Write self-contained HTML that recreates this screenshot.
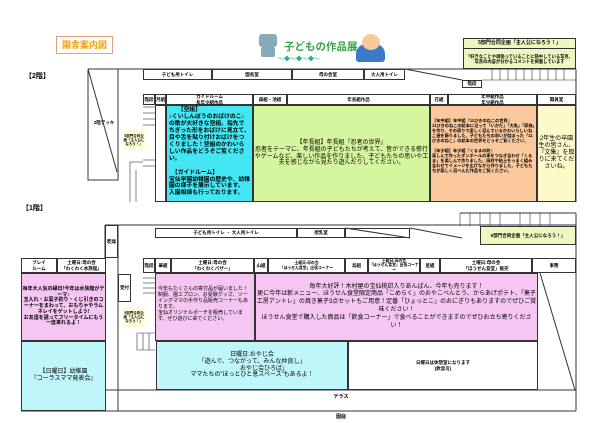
<!DOCTYPE html>
<html><head><meta charset="utf-8"><style>
*{margin:0;padding:0;box-sizing:border-box}
body{width:600px;height:423px;background:#fff;position:relative;overflow:hidden;font-family:"Liberation Sans","Noto Sans CJK JP",sans-serif;color:#000}
.a{position:absolute}
.b{position:absolute;border:1px solid #333}
.c{display:flex;align-items:center;justify-content:center;text-align:center;font-size:4.5px;font-weight:bold;line-height:1.15}
.t{font-size:5.6px;line-height:1.2;font-weight:bold}
</style></head><body>
<div class="b c" style="left:56px;top:36px;width:57px;height:18px;border-color:#e0a080;color:#f39a00;font-size:9px">園舎案内図</div>
<div class="a" style="left:259px;top:34px;width:18px;height:13px;background:#8ab;border-radius:3px"></div>
<div class="a" style="left:261px;top:47px;width:14px;height:10px;background:#8ab;border-radius:2px"></div>
<div class="a" style="left:284px;top:39px;font-size:10.5px;font-weight:bold;color:#3aa24a;white-space:nowrap">子どもの作品展</div>
<div class="a" style="left:278px;top:54px;width:80px;font-size:6px;color:#3a8;white-space:nowrap">〜◆〜◆〜◆〜</div>
<div class="a" style="left:356px;top:44px;width:29px;height:18px;background:#3a7bc8;border-radius:10px 10px 3px 3px"></div>
<div class="a" style="left:362px;top:34px;width:18px;height:16px;background:#f6c99a;border-radius:50%"></div>
<div class="b" style="left:463px;top:38px;width:113px;height:31px;background:#eef7c0"></div>
<div class="b c" style="left:463px;top:38px;width:113px;height:11px;font-size:5px">5部門合同企画「主人公になろう！」</div>
<div class="a c" style="left:465px;top:50px;width:109px;height:19px;font-size:4.3px">「好きなことや頑張っていることに熱中している写真、写真の内容が分かるコメントを掲載しています</div>

<div class="a" style="left:25px;top:71px;font-size:7px;font-weight:bold">【2階】</div>
<svg class="a" style="left:0;top:0" width="600" height="423">
<g stroke="#333" stroke-width="1" fill="none">
<polyline points="88,69 88,180 118,180 118,69 88,69"/>
<line x1="88" y1="69" x2="117" y2="172"/>
<line x1="118" y1="69" x2="576" y2="69"/>
<line x1="576" y1="69" x2="576" y2="202"/>
<line x1="405" y1="69" x2="462" y2="80"/>
<g stroke-width="0.6"><line x1="492" y1="69" x2="492" y2="80"/><line x1="500" y1="69" x2="500" y2="80"/><line x1="508" y1="69" x2="508" y2="80"/><line x1="516" y1="69" x2="516" y2="80"/><line x1="524" y1="69" x2="524" y2="80"/><line x1="532" y1="69" x2="532" y2="80"/><line x1="540" y1="69" x2="540" y2="80"/><line x1="548" y1="69" x2="548" y2="80"/><line x1="556" y1="69" x2="556" y2="80"/><line x1="564" y1="69" x2="564" y2="80"/><line x1="482" y1="80" x2="576" y2="80"/><line x1="143" y1="107" x2="155" y2="107"/><line x1="143" y1="113" x2="155" y2="113"/><line x1="143" y1="119" x2="155" y2="119"/><line x1="143" y1="125" x2="155" y2="125"/><line x1="143" y1="160" x2="155" y2="160"/><line x1="143" y1="166" x2="155" y2="166"/><line x1="130" y1="162" x2="130" y2="202"/><line x1="136" y1="170" x2="136" y2="202"/><line x1="130" y1="162" x2="143" y2="162"/></g>
<line x1="105" y1="225" x2="105" y2="258"/>
<line x1="118" y1="225" x2="118" y2="411"/>
<line x1="105" y1="225" x2="155" y2="225"/>
<line x1="155" y1="225" x2="576" y2="225"/>
<line x1="576" y1="213" x2="576" y2="411"/>
<line x1="460" y1="213" x2="576" y2="213"/>
<g stroke-width="0.6"><line x1="470" y1="213" x2="470" y2="226"/><line x1="480" y1="213" x2="480" y2="226"/><line x1="490" y1="213" x2="490" y2="226"/><line x1="500" y1="213" x2="500" y2="226"/><line x1="520" y1="213" x2="520" y2="226"/><line x1="530" y1="213" x2="530" y2="226"/><line x1="540" y1="213" x2="540" y2="226"/><line x1="550" y1="213" x2="550" y2="226"/><line x1="460" y1="213" x2="460" y2="226"/>
<line x1="143" y1="278" x2="155" y2="278"/><line x1="143" y1="283" x2="155" y2="283"/><line x1="143" y1="288" x2="155" y2="288"/><line x1="143" y1="293" x2="155" y2="293"/>
<line x1="137" y1="333" x2="155" y2="333"/><line x1="137" y1="333" x2="137" y2="350"/><line x1="143" y1="333" x2="143" y2="350"/><line x1="149" y1="333" x2="149" y2="350"/><line x1="137" y1="350" x2="155" y2="350"/></g>
<line x1="345" y1="228" x2="410" y2="238"/>
<line x1="410" y1="228" x2="462" y2="238"/>
<line x1="540" y1="273" x2="575" y2="390"/>
<line x1="106" y1="390" x2="576" y2="390"/>
<line x1="21" y1="411" x2="576" y2="411"/>
</g></svg>
<div class="a c" style="left:91px;top:120px;width:26px;font-size:4.5px">2階デッキ</div>
<div class="b c" style="left:143px;top:69px;width:69px;height:11px">子ども用トイレ</div>
<div class="b c" style="left:212px;top:69px;width:80px;height:11px">園長室</div>
<div class="b c" style="left:292px;top:69px;width:72px;height:11px">母の会室</div>
<div class="b c" style="left:364px;top:69px;width:41px;height:11px">大人用トイレ</div>
<div class="b c" style="left:462px;top:80px;width:20px;height:8px">階段</div>
<div class="a c" style="left:123px;top:130px;width:22px;height:20px;background:#fdfbd8;font-size:3.5px">5部門合同企画「主人公になろう！」</div>

<div class="b c" style="left:143px;top:94px;width:12px;height:11px">階段</div>
<div class="b c" style="left:155px;top:94px;width:11px;height:11px">月組</div>
<div class="b c" style="left:166px;top:94px;width:87px;height:11px">ガイドルーム<br>長年少組作品</div>
<div class="b c" style="left:253px;top:94px;width:34px;height:11px">森組・池組</div>
<div class="b c" style="left:287px;top:94px;width:143px;height:11px">年長組作品</div>
<div class="b c" style="left:430px;top:94px;width:18px;height:11px">花組</div>
<div class="b c" style="left:448px;top:94px;width:89px;height:11px">年中組作品<br>年少組作品</div>
<div class="b c" style="left:537px;top:94px;width:39px;height:11px">職員室</div>
<div class="b" style="left:155px;top:105px;width:11px;height:97px"></div>
<div class="b t" style="left:166px;top:105px;width:87px;height:97px;background:#43e6f2;padding:1px 2px;font-size:5.8px">　　【空組】<br>♪くいしんぼうのおばけのこ♪の歌が大好きな空組。指先でちぎった形をおばけに見立て、目や舌を貼り付けおばけをつくりました！空組のかわいらしい作品をどうぞご覧ください。<br><br>　【ガイドルーム】<br>宝仙学園幼稚園の歴史や、幼稚園の様子を展示しています。<br>入園相談も行っております。</div>
<div class="b c" style="left:253px;top:105px;width:177px;height:97px;background:#d5f59e;font-size:6px;font-weight:normal">【年長組】年長組『忍者の世界』<br>忍者をテーマに、年長組の子どもたちが考えて、皆ができる修行やゲームなど、楽しい作品を作りました。子どもたちの思いや工夫を感じながら見たり遊んだりしてください。</div>
<div class="b" style="left:430px;top:105px;width:107px;height:97px;background:#fbc99d"></div>
<div class="a" style="left:432px;top:118px;width:104px;font-size:4.2px;line-height:1.2;font-weight:bold">【年中組】年中組『11ぴきのねこの世界』<br>11ぴきのねこの絵本に沿って「いかだ」「大魚」「家族」を作り、その周りで楽しく遊んでいるかわいらしいねこ達を飾りました。子どもたちの思いが詰まった「11ぴきのねこ」の絵本の世界をどうぞご覧ください。<br><br>【年少組】年少組『くるまの町』<br>楽しんで作ったダンボールの車をつなぎ合わせ「くるま」を楽しんで作りました。廃材や粘土をうまく組み合わせてイメージを広げながら作りました。子どもたちが楽しく遊べんだ作品をご覧ください。</div>
<div class="b c" style="left:537px;top:105px;width:39px;height:97px;background:#fef9c8;font-size:6px;font-weight:normal">2年生の卒園生の皆さん、『文集』を取りに来てくださいね。</div>

<div class="a" style="left:22px;top:203px;font-size:7px;font-weight:bold">【1階】</div>
<div class="b c" style="left:105px;top:225px;width:13px;height:33px">乾燥</div>
<div class="b c" style="left:155px;top:228px;width:142px;height:10px">子ども用トイレ ・ 大人用トイレ</div>
<div class="b c" style="left:297px;top:228px;width:48px;height:10px">授乳室</div>
<div class="b" style="left:345px;top:228px;width:65px;height:10px"></div>
<div class="b c" style="left:480px;top:226px;width:96px;height:19px;background:#eef7c0;font-size:4.5px">5部門合同企画「主人公になろう！」</div>

<div class="b c" style="left:21px;top:258px;width:36px;height:15px">プレイ<br>ルーム</div>
<div class="b c" style="left:57px;top:258px;width:49px;height:15px">土曜日:母の会<br>「わくわく水族館」</div>
<div class="b c" style="left:143px;top:258px;width:12px;height:15px">階段</div>
<div class="b c" style="left:155px;top:258px;width:16px;height:15px">華組</div>
<div class="b c" style="left:171px;top:258px;width:83px;height:15px">土曜日:母の会<br>「わくわくバザー」</div>
<div class="b c" style="left:254px;top:258px;width:14px;height:15px">山組</div>
<div class="b c" style="left:268px;top:258px;width:77px;height:15px;font-size:3.8px">土曜日:母の会<br>「ほうせん食堂」出張コーナー</div>
<div class="b c" style="left:345px;top:258px;width:23px;height:15px">鳥組</div>
<div class="b c" style="left:368px;top:258px;width:52px;height:15px;font-size:3.8px">土曜日:母の会<br>「ほうせん食堂」出張コーナー</div>
<div class="b c" style="left:420px;top:258px;width:20px;height:15px">星組</div>
<div class="b c" style="left:440px;top:258px;width:92px;height:15px">土曜日:母の会<br>「ほうせん食堂」販売</div>
<div class="b c" style="left:532px;top:258px;width:44px;height:15px">事務</div>
<div class="b c" style="left:118px;top:274px;width:13px;height:28px">受付</div>

<div class="b c" style="left:21px;top:273px;width:85px;height:68px;background:#f6c6f2;font-size:5px">毎年大人気の縁日!今年は水族館がテーマ♪<br>玉入れ・お菓子釣り・くじ引きのコーナーをまわって、おもちゃやラムネレイをゲットしよう!<br>お友達を誘ってフリータイムにもう一度来れるよ！</div>
<div class="b c" style="left:21px;top:341px;width:85px;height:70px;background:#bff6f9;font-size:6px;font-weight:normal">【日曜日】幼稚園<br>『コーラスママ発表会』</div>
<div class="a c" style="left:123px;top:307px;width:22px;height:20px;background:#fdfbd8;font-size:3.5px">5部門合同企画「主人公になろう！」</div>
<div class="b t" style="left:155px;top:273px;width:100px;height:68px;background:#f6c6f2;padding:12px 2px 0;font-size:5px;font-weight:normal">今年もたくさんの寄付品が届いました！<br>制服、園エプロン、お受験グッズ、ソーイングママの手作り品販売コーナーもあります。<br>宝仙オリジナルポーチを販売しています。ぜひ遊びに来てください。</div>
<div class="b c" style="left:255px;top:273px;width:283px;height:68px;background:#f6c6f2;font-size:6px;font-weight:normal;line-height:1.3">毎年大好評！木村屋の宝仙桃印入りあんぱん、今年も売ります！<br>更に今年は新メニュー、ほうせん食堂限定商品「こめらく」のおやこべんとう、からあげポテト、「菓子工房アントレ」の焼き菓子3点セットもご用意！定番「ひょっとこ」のおにぎりもありますのでぜひご賞味ください！<br>ほうせん食堂で購入した商品は「飲食コーナー」で食べることができますのでぜひお立ち寄りください！</div>
<div class="b c" style="left:156px;top:341px;width:192px;height:49px;background:#bff6f9;font-size:6px;font-weight:normal">日曜日:おやじ会<br>「遊んで、つながって、みんな仲良し」<br>　　　　おやじ会ひろば」<br>ママたちの"ほっとひと息スペース"もあるよ！</div>
<div class="b c" style="left:348px;top:341px;width:190px;height:49px">日曜日は休憩室になります<br>(飲食可)</div>
<div class="a c" style="left:106px;top:395px;width:470px;font-size:5px">テラス</div>
<div class="a c" style="left:106px;top:415px;width:470px;font-size:5px">園庭</div>
</body></html>
